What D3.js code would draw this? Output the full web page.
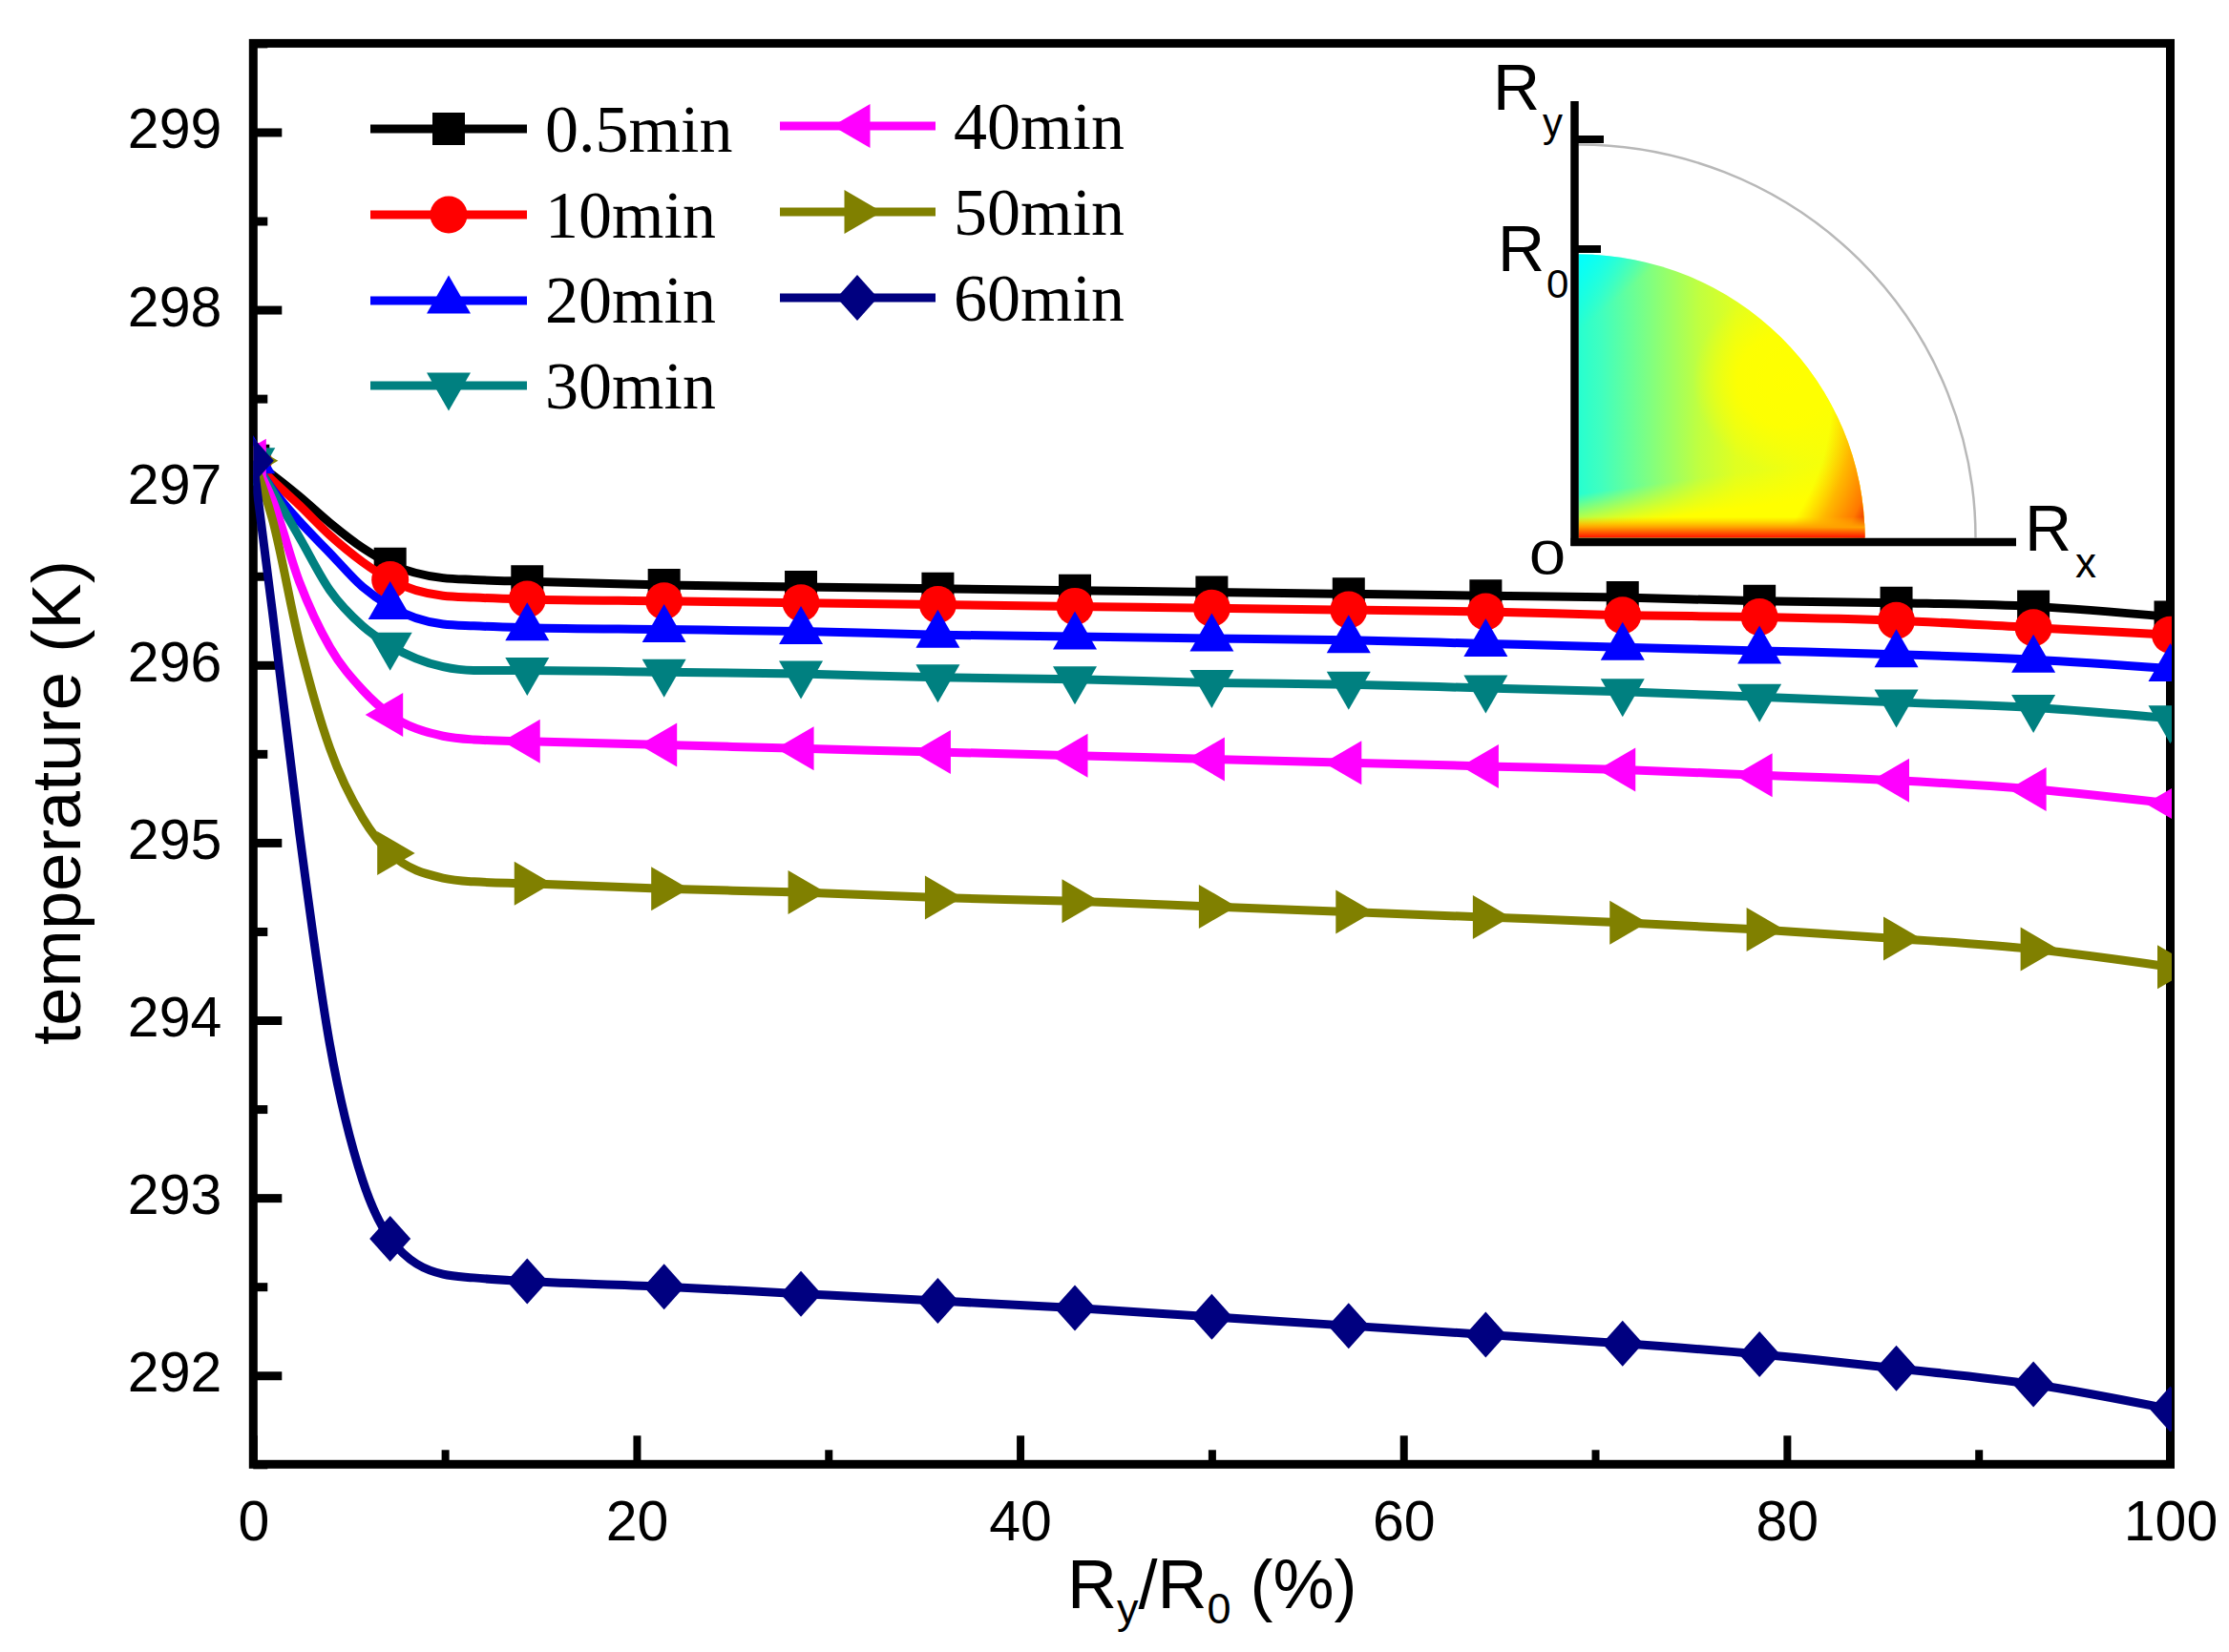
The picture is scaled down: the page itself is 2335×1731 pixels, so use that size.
<!DOCTYPE html>
<html>
<head>
<meta charset="utf-8">
<script src="https://cdn.jsdelivr.net/npm/d3@7"></script>
<style>
  body { margin: 0; background: #fff; }
  text { font-family: "Liberation Sans", Arial, sans-serif; fill: #000; }
  .legend-label { font-family: "Liberation Serif", "Times New Roman", serif; font-size: 70px; }
</style>
</head>
<body>
<div class="chart"></div>
<script>
// x positions of the points the curves run through (Ry/R0, %)
const lineX = [0, 1, 2.4, 4, 5.7, 7.14, 9.9, 11.5, 14.29, 21.43, 28.57, 35.71, 42.86, 50, 57.14, 64.29, 71.43, 78.57, 85.71, 92.86, 100];
// the symbols sit on these x only
const markerX = [0, 7.14, 14.29, 21.43, 28.57, 35.71, 42.86, 50, 57.14, 64.29, 71.43, 78.57, 85.71, 92.86, 100];

const min05 = [297.15, 297.07, 296.95, 296.80, 296.66, 296.57, 296.49, 296.48, 296.47, 296.45, 296.44, 296.43, 296.42, 296.41, 296.40, 296.39, 296.38, 296.36, 296.35, 296.33, 296.27];
const min10 = [297.15, 297.04, 296.90, 296.73, 296.58, 296.48, 296.39, 296.38, 296.37, 296.36, 296.35, 296.34, 296.33, 296.32, 296.31, 296.30, 296.28, 296.27, 296.25, 296.21, 296.17];
const min20 = [297.15, 296.99, 296.81, 296.63, 296.44, 296.33, 296.23, 296.22, 296.21, 296.20, 296.19, 296.17, 296.16, 296.15, 296.14, 296.12, 296.10, 296.08, 296.06, 296.03, 295.98];
const min30 = [297.15, 296.98, 296.72, 296.42, 296.22, 296.11, 295.99, 295.97, 295.97, 295.96, 295.95, 295.93, 295.92, 295.90, 295.89, 295.87, 295.85, 295.82, 295.79, 295.76, 295.70];
const min40 = [297.15, 296.93, 296.47, 296.10, 295.86, 295.72, 295.60, 295.58, 295.57, 295.55, 295.53, 295.51, 295.49, 295.47, 295.45, 295.43, 295.41, 295.38, 295.35, 295.30, 295.22];
const min50 = [297.15, 296.82, 296.13, 295.53, 295.14, 294.94, 294.80, 294.78, 294.77, 294.74, 294.72, 294.69, 294.67, 294.64, 294.61, 294.58, 294.55, 294.51, 294.46, 294.40, 294.30];
const min60 = [297.15, 296.30, 295.06, 293.86, 293.10, 292.77, 292.57, 292.55, 292.53, 292.50, 292.46, 292.42, 292.38, 292.33, 292.28, 292.23, 292.18, 292.12, 292.04, 291.95, 291.81];

const names = ["0.5min", "10min", "20min", "30min", "40min", "50min", "60min"];
const colors = ["#000000", "#ff0000", "#0000ff", "#008080", "#ff00ff", "#808000", "#000080"];
const shapes = ["square", "circle", "up", "down", "left", "right", "diamond"];
const allValues = [min05, min10, min20, min30, min40, min50, min60];

const xMajor = [0, 20, 40, 60, 80, 100];
const xMinor = [10, 30, 50, 70, 90];
const yMajor = [292, 293, 294, 295, 296, 297, 298, 299];
const yMinor = [291.5, 292.5, 293.5, 294.5, 295.5, 296.5, 297.5, 298.5, 299.5];

const totalWidth = 2335;
const totalHeight = 1731;
const plot = { left: 265.3, right: 2273.5, top: 45.4, bottom: 1534.3 };

const xScale = d3.scaleLinear().domain([0, 100]).range([plot.left, plot.right]);
const yScale = d3.scaleLinear().domain([291.5, 299.5]).range([plot.bottom, plot.top]);

const svg = d3.select(".chart").append("svg")
  .attr("width", totalWidth)
  .attr("height", totalHeight)
  .style("display", "block");

const defs = svg.append("defs");

//markers are cut off at the plot edge
defs.append("clipPath").attr("id", "plot-clip").append("rect")
  .attr("x", plot.left)
  .attr("y", plot.top)
  .attr("width", 2275 - plot.left)
  .attr("height", plot.bottom - plot.top);

//frame
svg.append("rect")
  .attr("x", plot.left)
  .attr("y", plot.top)
  .attr("width", plot.right - plot.left)
  .attr("height", plot.bottom - plot.top)
  .attr("fill", "none")
  .attr("stroke", "#000")
  .attr("stroke-width", 9);

//axes, ticks point inwards
function styleAxis(g, width) {
  g.select(".domain").remove();
  g.selectAll("line").attr("stroke", "#000").attr("stroke-width", width);
}

svg.append("g")
  .attr("transform", `translate(0,${plot.bottom})`)
  .call(d3.axisBottom(xScale).tickValues(xMajor).tickSize(-30).tickPadding(37.5).tickFormat(d3.format("d")))
  .call(styleAxis, 8)
  .selectAll("text")
  .attr("font-size", 59)
  .attr("dy", "0.72em")
  .style("font-family", '"Liberation Sans"');

svg.append("g")
  .attr("transform", `translate(0,${plot.bottom})`)
  .call(d3.axisBottom(xScale).tickValues(xMinor).tickSize(-15).tickFormat(""))
  .call(styleAxis, 8);

const yAxisG = svg.append("g")
  .attr("transform", `translate(${plot.left},0)`)
  .call(d3.axisLeft(yScale).tickValues(yMajor).tickSize(-30).tickPadding(33).tickFormat(d3.format("d")))
  .call(styleAxis, 9);
yAxisG.selectAll("text")
  .attr("font-size", 59)
  .attr("dy", "0.28em")
  .style("font-family", '"Liberation Sans"');

svg.append("g")
  .attr("transform", `translate(${plot.left},0)`)
  .call(d3.axisLeft(yScale).tickValues(yMinor).tickSize(-15).tickFormat(""))
  .call(styleAxis, 9);

//axis titles
svg.append("text")
  .attr("transform", "translate(84,841) rotate(-90)")
  .attr("text-anchor", "middle")
  .attr("font-size", 72.5)
  .text("temperature (K)");

const xTitle = svg.append("text")
  .attr("x", 1118)
  .attr("y", 1685)
  .attr("font-size", 72);
xTitle.append("tspan").text("R");
xTitle.append("tspan").attr("font-size", 45).attr("dy", 16).text("y");
xTitle.append("tspan").attr("dy", -16).text("/R");
xTitle.append("tspan").attr("font-size", 45).attr("dy", 16).text("0");
xTitle.append("tspan").attr("dy", -16).text(" (%)");

//marker shapes, triangles are centred on their centroid like the original
function markerPath(shape) {
  const p = d3.path();
  if (shape === "square") {
    p.rect(-17, -17, 34, 34);
  } else if (shape === "circle") {
    p.arc(0, 0, 19.5, 0, 2 * Math.PI);
  } else if (shape === "up" || shape === "down") {
    const s = shape === "up" ? 1 : -1;
    p.moveTo(0, -26.5 * s);
    p.lineTo(23, 13.5 * s);
    p.lineTo(-23, 13.5 * s);
    p.closePath();
  } else if (shape === "left" || shape === "right") {
    const s = shape === "left" ? 1 : -1;
    p.moveTo(-26 * s, 0);
    p.lineTo(13.5 * s, -23);
    p.lineTo(13.5 * s, 23);
    p.closePath();
  } else {
    p.moveTo(0, -24);
    p.lineTo(21.5, 0);
    p.lineTo(0, 24);
    p.lineTo(-21.5, 0);
    p.closePath();
  }
  return p.toString();
}

const line = d3.line()
  .x((d) => xScale(d.x))
  .y((d) => yScale(d.y))
  .curve(d3.curveMonotoneX);

//draw data, later series on top
const dataGroup = svg.append("g").attr("clip-path", "url(#plot-clip)");

names.forEach((name, i) => {
  const points = lineX.map((x, j) => ({ x: x, y: allValues[i][j] }));
  dataGroup.append("path")
    .datum(points)
    .attr("d", line)
    .attr("fill", "none")
    .attr("stroke", colors[i])
    .attr("stroke-width", 9);
  dataGroup.selectAll(".marker-" + i)
    .data(points.filter((d) => markerX.includes(d.x)))
    .enter()
    .append("path")
    .attr("class", "marker-" + i)
    .attr("transform", (d) => `translate(${xScale(d.x)},${yScale(d.y)})`)
    .attr("d", markerPath(shapes[i]))
    .attr("fill", colors[i]);
});

//legend
const legendRows = [
  { x1: 388, x2: 552, xm: 470, y: 135, tx: 571, ty: 159 },
  { x1: 388, x2: 552, xm: 470, y: 225, tx: 571, ty: 249 },
  { x1: 388, x2: 552, xm: 470, y: 315, tx: 571, ty: 338 },
  { x1: 388, x2: 552, xm: 470, y: 404, tx: 571, ty: 428 },
  { x1: 817, x2: 980, xm: 898, y: 132, tx: 999, ty: 156 },
  { x1: 817, x2: 980, xm: 898, y: 222, tx: 999, ty: 246 },
  { x1: 817, x2: 980, xm: 898, y: 312, tx: 999, ty: 336 }
];

const legendGroup = svg.append("g");
legendRows.forEach((r, i) => {
  legendGroup.append("line")
    .attr("x1", r.x1).attr("x2", r.x2)
    .attr("y1", r.y).attr("y2", r.y)
    .attr("stroke", colors[i])
    .attr("stroke-width", 9);
  legendGroup.append("path")
    .attr("transform", `translate(${r.xm},${r.y})`)
    .attr("d", markerPath(shapes[i]))
    .attr("fill", colors[i]);
  legendGroup.append("text")
    .attr("class", "legend-label")
    .attr("x", r.tx)
    .attr("y", r.ty)
    .text(names[i]);
});

//inset: temperature field in a quarter of a droplet
const inset = svg.append("g");
const ox = 1653.5, oy = 563.5;
const quarter = `M${ox},${oy} L${ox + 300},${oy} A300,297 0 0 0 ${ox},${oy - 297} Z`;

function addGradient(type, attrs, stops) {
  const g = defs.append(type).attr("gradientUnits", "userSpaceOnUse");
  Object.keys(attrs).forEach((k) => g.attr(k, attrs[k]));
  stops.forEach((s) => g.append("stop")
    .attr("offset", s[0])
    .attr("stop-color", s[1])
    .attr("stop-opacity", s[2] === undefined ? 1 : s[2]));
  return g;
}

addGradient("linearGradient", { id: "field-base", x1: ox, y1: oy, x2: ox + 300, y2: oy }, [
  [0, "#26ffd0"], [0.08, "#40ffbf"], [0.25, "#80ff80"], [0.42, "#c0ff40"], [0.55, "#e0ff20"], [0.75, "#f0ff10"], [1, "#ffff00"]
]);
addGradient("radialGradient", { id: "field-yellow", cx: ox + 215, cy: oy - 165, r: 95 }, [
  [0, "#ffff00"], [0.5, "#ffff00", 0.9], [1, "#ffff00", 0]
]);
addGradient("linearGradient", { id: "field-top", x1: ox, y1: oy - 297, x2: ox + 40, y2: oy - 250 }, [
  [0, "#00ffff"], [1, "#00ffff", 0]
]);
addGradient("radialGradient", { id: "field-edge", cx: ox + 30, cy: oy - 150, r: 310 }, [
  [0, "#ffc000", 0], [0.76, "#ffc000", 0], [0.84, "#ffb800"], [0.93, "#ff7800"], [1, "#e00000"]
]);
// yellow wedge that rises towards the rim
addGradient("linearGradient", { id: "field-wedge", x1: ox + 120, y1: oy - 62, x2: ox + 125, y2: oy - 25 }, [
  [0, "#ffff00", 0], [1, "#ffff00"]
]);
addGradient("linearGradient", { id: "field-bottom", x1: ox, y1: oy - 22, x2: ox, y2: oy }, [
  [0, "#ffc000", 0], [0.5, "#ffa000"], [1, "#ff1000"]
]);

["field-base", "field-yellow", "field-top", "field-wedge", "field-edge", "field-bottom"].forEach((id) => {
  inset.append("path").attr("d", quarter).attr("fill", `url(#${id})`);
});

//outer grey arc
inset.append("path")
  .attr("d", `M${ox},${oy - 412} A416,412 0 0 1 ${ox + 416},${oy}`)
  .attr("fill", "none")
  .attr("stroke", "#b8b8b8")
  .attr("stroke-width", 2.5);

//inset axes
inset.append("line").attr("x1", 1649.5).attr("x2", 1649.5).attr("y1", 106).attr("y2", 572)
  .attr("stroke", "#000").attr("stroke-width", 8.5);
inset.append("line").attr("x1", 1645.5).attr("x2", 2112).attr("y1", 568).attr("y2", 568)
  .attr("stroke", "#000").attr("stroke-width", 8.5);
inset.append("line").attr("x1", 1650).attr("x2", 1680).attr("y1", 146).attr("y2", 146)
  .attr("stroke", "#000").attr("stroke-width", 8);
inset.append("line").attr("x1", 1650).attr("x2", 1677).attr("y1", 261).attr("y2", 261)
  .attr("stroke", "#000").attr("stroke-width", 8);

//inset labels
const insetLabels = [
  { t: "R", x: 1564, y: 115, s: 68 },
  { t: "y", x: 1616, y: 143, s: 42 },
  { t: "R", x: 1569, y: 284, s: 68 },
  { t: "0", x: 1620, y: 312, s: 42 },
  { t: "0", x: 1602, y: 602, s: 50, w: 38 },
  { t: "R", x: 2121, y: 577, s: 68 },
  { t: "x", x: 2174, y: 605, s: 44 }
];
inset.selectAll(".inset-label")
  .data(insetLabels)
  .enter()
  .append("text")
  .attr("class", "inset-label")
  .attr("x", (d) => d.x)
  .attr("y", (d) => d.y)
  .attr("font-size", (d) => d.s)
  .attr("textLength", (d) => d.w || null)
  .attr("lengthAdjust", (d) => (d.w ? "spacingAndGlyphs" : null))
  .text((d) => d.t);
</script>
</body>
</html>
